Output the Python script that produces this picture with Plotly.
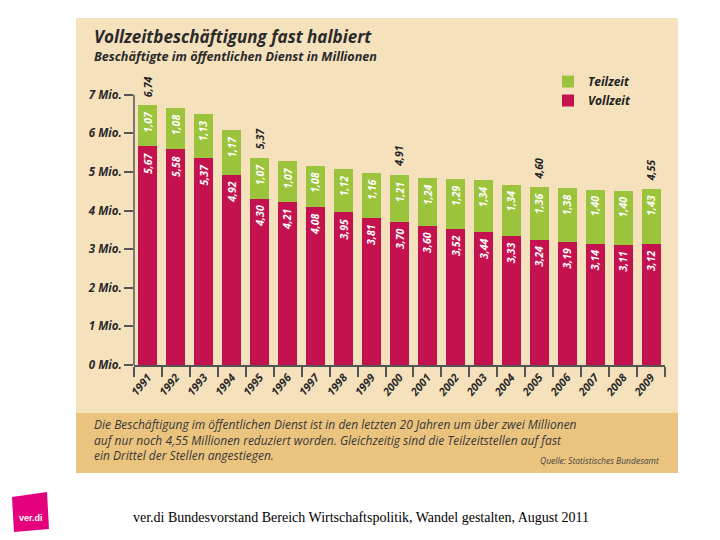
import plotly.graph_objects as go

years = [str(y) for y in range(1991, 2010)]
vollzeit = [5.67, 5.58, 5.37, 4.92, 4.30, 4.21, 4.08, 3.95, 3.81, 3.70, 3.60, 3.52, 3.44, 3.33, 3.24, 3.19, 3.14, 3.11, 3.12]
teilzeit = [1.07, 1.08, 1.13, 1.17, 1.07, 1.07, 1.08, 1.12, 1.16, 1.21, 1.24, 1.29, 1.34, 1.34, 1.36, 1.38, 1.40, 1.40, 1.43]
total_years = ["1991", "1995", "2000", "2005", "2009"]
total_values = [6.74, 5.37, 4.91, 4.60, 4.55]
y_ticks = [0, 1, 2, 3, 4, 5, 6, 7]
y_ticktext = [f"{v} Mio." for v in y_ticks]

RED = "#c4124f"
GREEN = "#9cc33c"
PANEL = "#f6e1bd"
BAND = "#eac47f"
FONT = "Open Sans"

def de(v):
    return f"{v:.2f}".replace(".", ",")

OFF = 8  # page body margin
W, H = 720, 540
# plot area in screenshot pixels
SL, SR, ST, SB = 134, 665, 56, 365
L, R, T, B = SL - OFF, SR - OFF, ST - OFF, SB - OFF

def px(x):
    return (x - OFF - L) / (R - L)

def py(y):
    return (B - (y - OFF)) / (B - T)

fig = go.Figure()
fig.add_trace(go.Bar(x=years, y=vollzeit, name="Vollzeit",
                     marker=dict(color=RED, line=dict(width=0)), width=0.68))
fig.add_trace(go.Bar(x=years, y=teilzeit, name="Teilzeit",
                     marker=dict(color=GREEN, line=dict(width=0)), width=0.68))

shapes = [
    dict(type="rect", xref="paper", yref="paper", x0=px(76), x1=px(678), y0=py(473), y1=py(18),
         fillcolor=PANEL, line=dict(width=0), layer="below"),
    dict(type="rect", xref="paper", yref="paper", x0=px(76), x1=px(678), y0=py(473), y1=py(413),
         fillcolor=BAND, line=dict(width=0), layer="below"),
    dict(type="line", xref="paper", yref="y", x0=0, x1=0, y0=0, y1=7,
         line=dict(color="#555555", width=1.5)),
    # ver.di logo
    dict(type="path", xref="paper", yref="paper",
         path=f"M {px(12)} {py(497)} L {px(47)} {py(492)} L {px(49)} {py(529)} L {px(14)} {py(532)} Z",
         fillcolor="#e5007d", line=dict(width=0)),
]

lab_font = dict(family=FONT, size=10.5, color="white", style="italic", weight="bold")
annotations = [
    dict(x=px(92), y=py(37), xref="paper", yref="paper", xanchor="left", yanchor="middle",
         text="Vollzeitbeschäftigung fast halbiert", showarrow=False,
         font=dict(family=FONT, size=17, color="#2a2a2a", style="italic", weight="bold")),
    dict(x=px(92), y=py(56), xref="paper", yref="paper", xanchor="left", yanchor="middle",
         text="Beschäftigte im öffentlichen Dienst in Millionen", showarrow=False,
         font=dict(family=FONT, size=12.6, color="#2a2a2a", style="italic", weight="bold")),
    dict(x=px(92), y=py(440), xref="paper", yref="paper", xanchor="left", yanchor="middle",
         text="Die Beschäftigung im öffentlichen Dienst ist in den letzten 20 Jahren um über zwei Millionen<br>"
              "auf nur noch 4,55 Millionen reduziert worden. Gleichzeitig sind die Teilzeitstellen auf fast<br>"
              "ein Drittel der Stellen angestiegen.",
         align="left", showarrow=False,
         font=dict(family=FONT, size=12, color="#383838", style="italic")),
    dict(x=px(662), y=py(461), xref="paper", yref="paper", xanchor="right", yanchor="middle",
         text="Quelle: Statistisches Bundesamt", showarrow=False,
         font=dict(family=FONT, size=8.5, color="#444444", style="italic")),
    dict(x=px(31), y=py(518), xref="paper", yref="paper", xanchor="center", yanchor="middle",
         text="ver.di", showarrow=False,
         font=dict(family="Liberation Sans", size=9, color="white", weight="bold")),
    dict(x=px(361), y=py(517), xref="paper", yref="paper", xanchor="center", yanchor="middle",
         text="ver.di Bundesvorstand Bereich Wirtschaftspolitik, Wandel gestalten, August 2011",
         showarrow=False, font=dict(family="Liberation Serif", size=14, color="black")),
]
for i, (v, t) in enumerate(zip(vollzeit, teilzeit)):
    annotations.append(dict(x=i, y=v, xref="x", yref="y", text=de(v), textangle=-90, showarrow=False,
                            xanchor="center", yanchor="top", yshift=-4, font=lab_font))
    annotations.append(dict(x=i, y=v + t, xref="x", yref="y", text=de(t), textangle=-90, showarrow=False,
                            xanchor="center", yanchor="top", yshift=-4, font=lab_font))
for yr, tv in zip(total_years, total_values):
    annotations.append(dict(
        x=years.index(yr), y=tv, xref="x", yref="y", text=de(tv), textangle=-90, showarrow=False,
        xanchor="center", yanchor="bottom", yshift=6,
        font=dict(family=FONT, size=10.5, color="#222222", style="italic", weight="bold")))

fig.update_layout(
    width=W, height=H,
    margin=dict(l=L, r=W - R, t=T, b=H - B, pad=0),
    paper_bgcolor="white", plot_bgcolor="rgba(0,0,0,0)",
    barmode="stack", bargap=0.32,
    showlegend=True,
    legend=dict(x=px(548), y=py(67), xanchor="left", yanchor="top", traceorder="reversed",
                bgcolor="rgba(0,0,0,0)", itemwidth=30,
                font=dict(family=FONT, size=12, color="#222222", style="italic", weight="bold")),
    shapes=shapes, annotations=annotations,
    xaxis=dict(type="category", range=[-0.5, 18.5], showline=True, linecolor="#555555", linewidth=1.5,
               ticks="outside", tickson="boundaries", ticklen=10, tickcolor="#555555", tickwidth=1.5,
               tickangle=-50, showgrid=False, zeroline=False,
               tickfont=dict(family=FONT, size=11, color="#2a2a2a", style="italic", weight="bold")),
    yaxis=dict(range=[0, 8], tickvals=y_ticks, ticktext=y_ticktext, showline=False,
               ticks="outside", ticklen=9, tickcolor="#555555", tickwidth=1.5,
               showgrid=False, zeroline=False,
               tickfont=dict(family=FONT, size=11.5, color="#2a2a2a", style="italic", weight="bold")),
)

fig.write_html("out.html")
